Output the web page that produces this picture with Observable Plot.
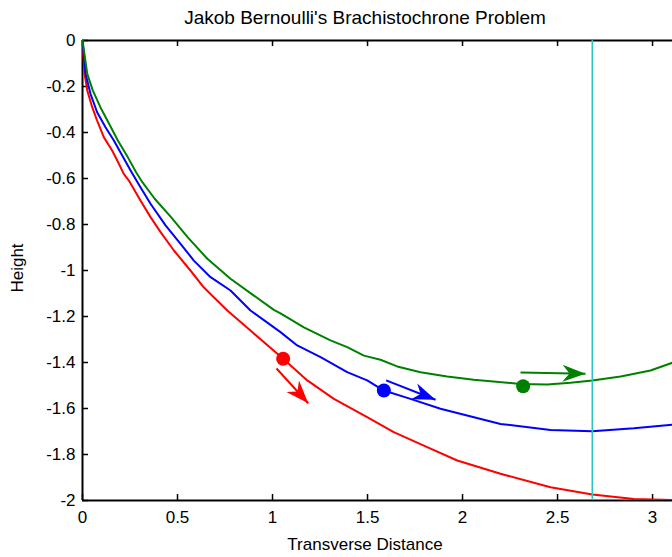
<!DOCTYPE html>
<html>
<head>
<meta charset="utf-8">
<script src="https://cdn.jsdelivr.net/npm/d3@7"></script>
<script src="https://cdn.jsdelivr.net/npm/@observablehq/plot@0.6"></script>
<style>
  body { margin: 0; background: #fff; }
  #wrap { position: relative; width: 672px; height: 557px; font-family: "Liberation Sans", Arial, sans-serif; color: #000; }
  #wrap svg { position: absolute; left: 0; top: 0; }
  .lbl { position: absolute; font-size: 17px; white-space: nowrap; line-height: 1; }
  #title { top: 8px; left: 365px; transform: translateX(-50%); font-size: 19px; }
  #xlabel { top: 536px; left: 365px; transform: translateX(-50%); }
  #ylabel { left: 17px; top: 268px; transform: translate(-50%, -50%) rotate(-90deg); }
</style>
</head>
<body>
<div id="wrap">
  <div class="lbl" id="title">Jakob Bernoulli's Brachistochrone Problem</div>
  <div class="lbl" id="xlabel">Transverse Distance</div>
  <div class="lbl" id="ylabel">Height</div>
</div>
<script>
const xTicks = [0, 0.5, 1, 1.5, 2, 2.5, 3];
const yTicks = [0, -0.2, -0.4, -0.6, -0.8, -1, -1.2, -1.4, -1.6, -1.8, -2];

const redX = [0, 0.011, 0.025, 0.051, 0.077, 0.112, 0.156, 0.183, 0.217, 0.244, 0.305, 0.358, 0.411, 0.481, 0.568, 0.638, 0.691, 0.762, 0.884, 1.056, 1.183, 1.323, 1.498, 1.638, 1.814, 1.972, 2.2, 2.463, 2.683, 2.902, 3.105];
const redY = [0, -0.145, -0.217, -0.29, -0.348, -0.42, -0.478, -0.522, -0.58, -0.609, -0.696, -0.768, -0.833, -0.913, -1.0, -1.073, -1.116, -1.174, -1.261, -1.384, -1.478, -1.558, -1.638, -1.703, -1.768, -1.826, -1.884, -1.942, -1.974, -1.993, -1.998];

const blueX = [0, 0.016, 0.042, 0.077, 0.121, 0.165, 0.209, 0.253, 0.305, 0.358, 0.437, 0.516, 0.586, 0.674, 0.779, 0.884, 1.042, 1.13, 1.253, 1.393, 1.498, 1.586, 1.726, 1.884, 2.2, 2.463, 2.683, 2.902, 3.105];
const blueY = [0, -0.145, -0.232, -0.312, -0.377, -0.435, -0.5, -0.565, -0.638, -0.71, -0.804, -0.884, -0.957, -1.029, -1.087, -1.174, -1.268, -1.326, -1.377, -1.442, -1.478, -1.522, -1.558, -1.601, -1.667, -1.693, -1.699, -1.686, -1.67];

const greenX = [0, 0.025, 0.054, 0.094, 0.14, 0.186, 0.238, 0.282, 0.315, 0.38, 0.466, 0.553, 0.657, 0.779, 0.902, 1.007, 1.042, 1.165, 1.305, 1.393, 1.481, 1.568, 1.656, 1.779, 1.919, 2.059, 2.305, 2.446, 2.568, 2.683, 2.832, 2.989, 3.105];
const greenY = [0, -0.145, -0.217, -0.29, -0.362, -0.435, -0.507, -0.573, -0.616, -0.688, -0.768, -0.855, -0.949, -1.036, -1.109, -1.171, -1.186, -1.247, -1.304, -1.333, -1.37, -1.388, -1.417, -1.442, -1.461, -1.475, -1.493, -1.496, -1.488, -1.478, -1.461, -1.435, -1.401];

const dotX = [1.056, 1.586, 2.319];
const dotY = [-1.384, -1.522, -1.503];
const arrowX1 = [1.021, 1.598, 2.305];
const arrowY1 = [-1.426, -1.478, -1.443];
const arrowX2 = [1.188, 1.858, 2.647];
const arrowY2 = [-1.577, -1.562, -1.449];
const seriesColors = ["#ff0000", "#0000ff", "#008000"];
const cyanX = [2.683];

const toPts = (xs, ys) => xs.map((x, i) => ({x, y: ys[i]}));
const red = toPts(redX, redY), blue = toPts(blueX, blueY), green = toPts(greenX, greenY);
const dots = dotX.map((x, i) => ({x, y: dotY[i], c: seriesColors[i]}));
const arrows = arrowX1.map((x1, i) => ({x1, y1: arrowY1[i], x2: arrowX2[i], y2: arrowY2[i], c: seriesColors[i]}));

const fmt = d => String(d);

const svg = Plot.plot({
  width: 672, height: 557,
  marginLeft: 82, marginRight: 0, marginTop: 40, marginBottom: 57,
  style: {fontFamily: "Liberation Sans, Arial, sans-serif", fontSize: "17px", background: "transparent", color: "black"},
  x: {domain: [0, 3.105]},
  y: {domain: [-2, 0]},
  marks: [
    Plot.axisX(xTicks, {tickSize: 0, tickPadding: 10, tickFormat: fmt, label: null, fill: "black"}),
    Plot.axisY(yTicks, {tickSize: 0, tickPadding: 7, tickFormat: fmt, label: null, fill: "black"}),
    Plot.ruleY([-2, 0], {stroke: "black", strokeWidth: 2}),
    Plot.ruleX([0], {stroke: "black", strokeWidth: 2}),
    Plot.ruleX(xTicks, {x: d => d, insetTop: 454, stroke: "black", strokeWidth: 1.5}),
    Plot.ruleX(xTicks, {x: d => d, insetBottom: 454, stroke: "black", strokeWidth: 1.5}),
    Plot.ruleY(yTicks, {y: d => d, insetRight: 584, stroke: "black", strokeWidth: 1.5}),
    Plot.line(red, {x: "x", y: "y", stroke: seriesColors[0], strokeWidth: 2, clip: true}),
    Plot.line(blue, {x: "x", y: "y", stroke: seriesColors[1], strokeWidth: 2, clip: true}),
    Plot.line(green, {x: "x", y: "y", stroke: seriesColors[2], strokeWidth: 2, clip: true}),
    Plot.ruleX(cyanX, {x: d => d, stroke: "#2fc2c2", strokeWidth: 1.6}),
    Plot.link(arrows, {x1: "x1", y1: "y1", x2: "x2", y2: "y2", stroke: "c", strokeWidth: 2}),
    Plot.dot(dots, {x: "x", y: "y", r: 7, fill: "c", stroke: null})
  ]
});

// filled MATLAB-style arrowheads attached to the link ends
const s = d3.select(svg);
const defs = s.insert("defs", ":first-child");
s.selectAll('g[aria-label="link"] path').each(function(d, i) {
  const col = this.getAttribute("stroke") || d3.select(this.parentNode).attr("stroke");
  const id = "ah" + i;
  const m = defs.append("marker")
    .attr("id", id)
    .attr("viewBox", "-25 -10 27 20")
    .attr("refX", 0).attr("refY", 0)
    .attr("markerWidth", 27).attr("markerHeight", 20)
    .attr("markerUnits", "userSpaceOnUse")
    .attr("orient", "auto");
  m.append("path").attr("d", "M0,0L-23,-8.5L-16,0L-23,8.5Z").attr("fill", col).attr("stroke", "none");
  this.setAttribute("marker-end", `url(#${id})`);
});

document.getElementById("wrap").prepend(svg);
</script>
</body>
</html>
